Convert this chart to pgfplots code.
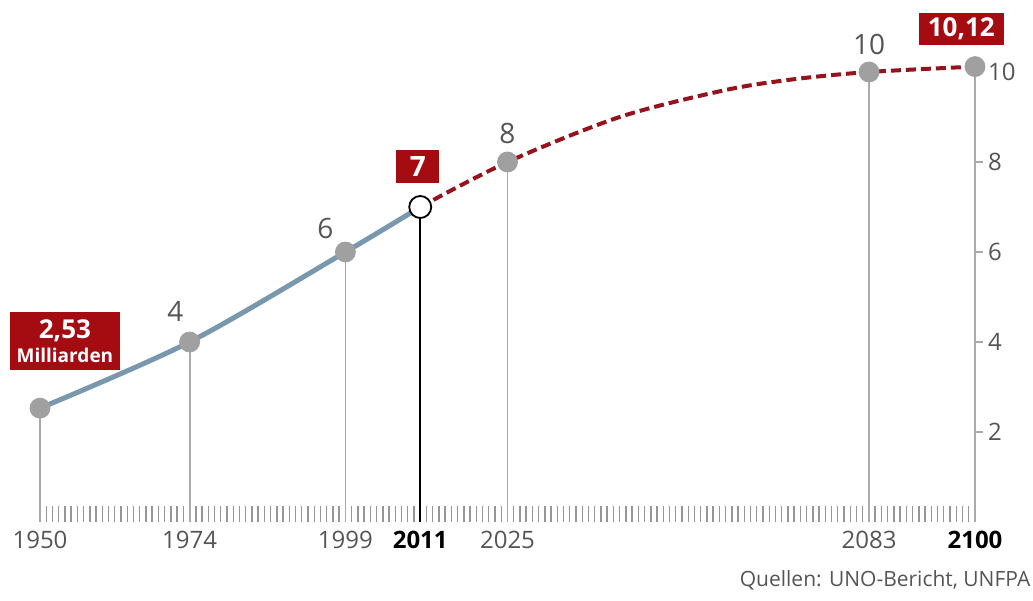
\documentclass[border=0pt]{standalone}
\usepackage{pgfplots}
\pgfplotsset{compat=1.18}
\usepackage{fontspec}
\setmainfont{Open Sans}
\definecolor{boxred}{RGB}{164,12,18}
\definecolor{dashred}{RGB}{150,18,28}
\definecolor{lineblue}{RGB}{122,152,173}
\definecolor{ptgray}{RGB}{160,160,160}
\definecolor{txtgray}{RGB}{85,85,85}
\definecolor{dropgray}{RGB}{170,170,170}
\definecolor{rulergray}{RGB}{150,150,150}
\begin{document}
\begin{tikzpicture}
\begin{axis}[name=ax, scale only axis, width=467.5pt, height=236.25pt,
 xmin=1950, xmax=2100, ymin=0, ymax=10.5, clip=false,
 axis x line*=bottom, axis y line*=right,
 x axis line style={draw=none}, y axis line style={draw=none},
 xtick={1950,1974,1999,2011,2025,2083,2100},
 xticklabels={1950,1974,1999,\textcolor{black}{\textbf{2011}},2025,2083,\textcolor{black}{\textbf{2100}}},
 minor xtick={1950,...,2100},
 major x tick style={draw=none},
 minor x tick style={rulergray, line width=0.7pt},
 minor tick length=8pt,
 major tick length=4pt,
 xtick align=inside,
 ytick align=outside,
 ytick={2,4,6,8,10},
 yticklabels={2,4,6,8,10},
 y tick style={dropgray, line width=0.8pt},
 xticklabel style={font=\fontsize{12}{14}\selectfont, text=txtgray, yshift=-1pt},
 yticklabel style={font=\fontsize{12}{14}\selectfont, text=txtgray, xshift=-1pt},
]
% drop lines
\addplot[ycomb, dropgray, line width=0.9pt] coordinates {(1950,2.53)(1974,4)(1999,6)(2025,8)(2083,10)(2100,10.12)};
\addplot[ycomb, black, line width=1.2pt] coordinates {(2011,7)};
% history
\addplot[lineblue, line width=2.5pt, smooth] coordinates {(1950,2.53)(1974,4)(1999,6)(2011,7)};
% projection
\addplot[dashred, line width=2pt, smooth, dash pattern=on 5pt off 2.5pt] coordinates {(2011,7)(2025,8)(2043,9.0)(2060,9.6)(2071,9.84)(2083,10)(2100,10.12)};
% points
\addplot[only marks, mark=*, mark size=5pt, mark options={fill=ptgray, draw=ptgray}] coordinates {(1950,2.53)(1974,4)(1999,6)(2025,8)(2083,10)(2100,10.12)};
\addplot[only marks, mark=*, mark size=5.5pt, mark options={fill=white, draw=black, line width=0.9pt}] coordinates {(2011,7)};
% labels
\node[fill=boxred, text=white, font=\bfseries\fontsize{13}{14}\selectfont, align=center, minimum width=55pt, minimum height=29pt, inner sep=1pt] at (axis cs:1954,4.02) {2,53\\[-2pt]{\fontsize{9.5}{11}\selectfont Milliarden}};
\node[fill=boxred, text=white, font=\bfseries\fontsize{14}{16}\selectfont, minimum width=21.5pt, minimum height=16.5pt, inner sep=0pt] at (axis cs:2010.6,7.91) {7};
\node[fill=boxred, text=white, font=\bfseries\fontsize{13}{15}\selectfont, minimum width=42.5pt, minimum height=16pt, inner sep=0pt] at (axis cs:2097.8,10.96) {10,12};
\node[text=txtgray, font=\fontsize{14}{16}\selectfont] at (axis cs:1971.7,4.67) {4};
\node[text=txtgray, font=\fontsize{14}{16}\selectfont] at (axis cs:1995.8,6.53) {6};
\node[text=txtgray, font=\fontsize{14}{16}\selectfont] at (axis cs:2025,8.64) {8};
\node[text=txtgray, font=\fontsize{14}{16}\selectfont] at (axis cs:2083,10.62) {10};
\node[anchor=east, text=txtgray, font=\fontsize{10.5}{12}\selectfont] at (axis cs:2110,-1.29) {Quellen: UNO-Bericht, UNFPA};
\end{axis}
\pgfresetboundingbox
\path ([shift={(-20pt,-39pt)}]ax.south west) rectangle ([shift={(29pt,24.75pt)}]ax.north east);
\end{tikzpicture}
\end{document}
